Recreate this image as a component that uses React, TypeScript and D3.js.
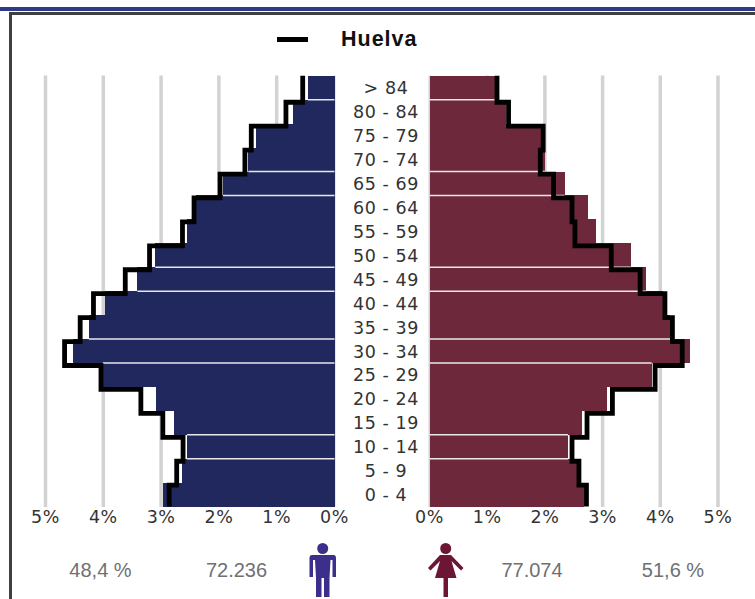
import React from "react";
import * as d3 from "d3";

const width = 755;
const height = 599;

const ages = ["> 84", "80 - 84", "75 - 79", "70 - 74", "65 - 69", "60 - 64", "55 - 59", "50 - 54", "45 - 49", "40 - 44", "35 - 39", "30 - 34", "25 - 29", "20 - 24", "15 - 19", "10 - 14", "5 - 9", "0 - 4"];
const maleBars = [0.46, 0.72, 1.35, 1.49, 1.93, 2.4, 2.56, 3.1, 3.41, 3.97, 4.25, 4.52, 4.01, 3.08, 2.78, 2.55, 2.64, 2.97];
const maleLine = [0.55, 0.84, 1.44, 1.55, 1.98, 2.43, 2.63, 3.2, 3.62, 4.17, 4.4, 4.67, 4.04, 3.35, 2.97, 2.62, 2.73, 2.86];
const femaleBars = [1.13, 1.33, 1.94, 2.01, 2.34, 2.75, 2.89, 3.49, 3.76, 4.05, 4.17, 4.51, 3.85, 3.07, 2.64, 2.4, 2.55, 2.68];
const femaleLine = [1.17, 1.37, 1.97, 1.92, 2.15, 2.47, 2.52, 3.15, 3.65, 4.08, 4.21, 4.38, 3.91, 3.17, 2.73, 2.47, 2.59, 2.72];
const ticks = [0, 1, 2, 3, 4, 5];
// the only row boundaries where a pale gap shows between bars
const gapRows = ["80 - 84", "65 - 69", "60 - 64", "45 - 49", "40 - 44", "30 - 34", "25 - 29", "10 - 14", "5 - 9"];

const y = d3.scaleBand<string>().domain(ages).range([75.8, 506.6]);
const xMale = d3.scaleLinear().domain([0, 5]).range([334.5, 45.5]);
const xFemale = d3.scaleLinear().domain([0, 5]).range([429.5, 718]);

const stepPath = (vals: number[], x: d3.ScaleLinear<number, number>) => {
  const pts: [number, number][] = [];
  vals.forEach((v, i) => {
    const top = y(ages[i])! + (i === 0 ? 0 : 2.5);
    const bottom = i === ages.length - 1 ? y(ages[i])! + y.bandwidth() : y(ages[i])! + y.bandwidth() + 2.5;
    pts.push([x(v), top], [x(v), bottom]);
  });
  return d3.line()(pts) || "";
};

const textFont = "'DejaVu Sans', sans-serif";
const numFont = "'Liberation Sans', Arial, sans-serif";

function Side({ bars, line, x, fill }: { bars: number[]; line: number[]; x: d3.ScaleLinear<number, number>; fill: string }) {
  const x0 = x(0);
  return (
    <g>
      {ticks.map(t => (
        <line key={t} x1={x(t)} x2={x(t)} y1={75.5} y2={507} stroke="#d2d2d2" strokeWidth={t === 0 ? 2 : 3.5} />
      ))}
      {bars.map((v, i) => (
        <rect key={ages[i]} x={Math.min(x0, x(v))} width={Math.abs(x(v) - x0)} y={y(ages[i])} height={y.bandwidth()} fill={fill} shapeRendering="crispEdges" />
      ))}
      {gapRows.map(a => {
        const i = ages.indexOf(a);
        return (
          <line key={a} x1={x0} x2={x(bars[i - 1] < bars[i] ? bars[i - 1] : bars[i])} y1={y(a)} y2={y(a)} stroke="#e9e7ea" strokeWidth={1.5} />
        );
      })}
      <path d={stepPath(line, x)} fill="none" stroke="#000" strokeWidth={4.8} strokeLinejoin="miter" />
      {ticks.map(t => (
        <text key={t} x={x(t)} y={523} textAnchor="middle" fontFamily={textFont} fontSize={17.5} letterSpacing={0.5} fill="#333">{t}%</text>
      ))}
    </g>
  );
}

export default function App() {
  return (
    <svg width={width} height={height} style={{ position: "absolute", left: 0, top: 0, display: "block" }}>
      <rect width={width} height={height} fill="#fff" />
      <rect x={0} y={7} width={width} height={4} fill="#2f3a8f" />
      <path d={`M10.5 ${height} V13.5 H${width}`} fill="none" stroke="#404040" strokeWidth={3} />

      <line x1={277} x2={308} y1={39.5} y2={39.5} stroke="#000" strokeWidth={5} />
      <text x={341} y={46} fontFamily={numFont} fontWeight="bold" fontSize={21.5} letterSpacing={1} fill="#111">Huelva</text>

      <Side bars={maleBars} line={maleLine} x={xMale} fill="#20285e" />
      <Side bars={femaleBars} line={femaleLine} x={xFemale} fill="#6d283b" />

      {ages.map(a => (
        <text key={a} x={386} y={y(a)! + y.bandwidth() / 2 + 6.5} textAnchor="middle" fontFamily={textFont} fontSize={17.5} letterSpacing={0.6} fill="#333">{a}</text>
      ))}

      <g fontFamily={numFont} fontSize={20} fill="#6f7074" textAnchor="middle">
        <text x={100.5} y={577}>48,4 %</text>
        <text x={236.5} y={577}>72.236</text>
        <text x={532} y={577}>77.074</text>
        <text x={673} y={577}>51,6 %</text>
      </g>

      <g fill="#3c2f8c">
        <circle cx={322.7} cy={548.5} r={5.5} />
        <path d="M312 555 H333.5 Q336 555 336 558 V577 H332.5 V560 H330.5 L329.5 578 V597 H324 V578 H321.5 V597 H316 V578 L315 560 H313 V577 H309.5 V558 Q309.5 555 312 555 Z" />
      </g>
      <g fill="#6d1535">
        <circle cx={445.7} cy={548.5} r={5.5} />
        <path d="M440 555 H451 L463.5 568 L461 570.5 L451.5 561 L456.5 578 H448 V597 H443.5 V578 H435 L440 561 L430.5 570.5 L428 568 Z" />
      </g>
    </svg>
  );
}
